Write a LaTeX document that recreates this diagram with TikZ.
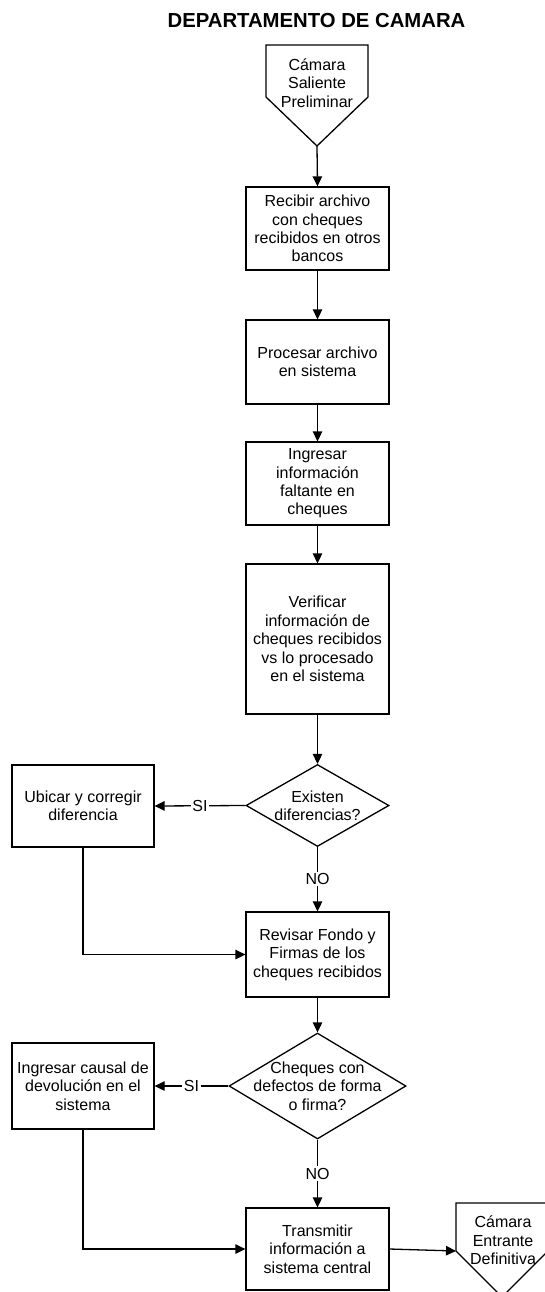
\documentclass[tikz,border=0pt]{standalone}
\usepackage{fontspec}
\setmainfont{Liberation Sans}
\usetikzlibrary{arrows.meta,shapes.geometric,calc}
\begin{document}
\begin{tikzpicture}[x=1pt,y=-1pt,
  line width=1.3pt,
  body/.style={font=\fontsize{16}{18.4}\selectfont, align=center},
  stepbox/.style={body, draw, rectangle, minimum width=143pt, inner sep=0pt},
  decision/.style={draw, diamond, inner sep=0pt},
  flow/.style={-{Triangle[length=10pt,width=9.5pt]}},
  tag/.style={body, fill=white, inner sep=1.5pt},
]
\useasboundingbox (0,0) rectangle (545,1292);
\clip (0,0) rectangle (545,1292);

% heading
\node[font=\bfseries\fontsize{20.3}{23}\selectfont] (title) at (316.5,21) {DEPARTAMENTO DE CAMARA};

% incoming off-page connector
\draw (266,45) -- (368,45) -- (368,97) -- (317,146) coordinate (stip) -- (266,97) -- cycle;
\node[body] (start) at (317,83) {Cámara\\Saliente\\Preliminar};

% process steps
\node[stepbox, minimum height=83pt] (b1) at (317.5,228.5) {Recibir archivo\\con cheques\\recibidos en otros\\bancos};
\node[stepbox, minimum height=84pt] (b2) at (317.5,362) {Procesar archivo\\en sistema};
\node[stepbox, minimum height=83pt] (b3) at (317.5,483.5) {Ingresar\\información\\faltante en\\cheques};
\node[stepbox, minimum height=150pt] (b4) at (317.5,639) {Verificar\\información de\\cheques recibidos\\vs lo procesado\\en el sistema};

\node[decision, minimum width=143pt, minimum height=82pt,
      label={[body]center:Existen\\diferencias?}] (d1) at (317.5,805.5) {};
\node[stepbox, minimum width=142pt, minimum height=82pt] (u1) at (83,806) {Ubicar y corregir\\diferencia};

\node[stepbox, minimum height=85pt] (b5) at (317.5,954.5) {Revisar Fondo y\\Firmas de los\\cheques recibidos};

\node[decision, minimum width=177pt, minimum height=106pt,
      label={[body]center:Cheques con\\defectos de forma\\o firma?}] (d2) at (317.5,1086) {};
\node[stepbox, minimum width=142pt, minimum height=86pt] (u2) at (83,1086) {Ingresar causal de\\devolución en el\\sistema};

\node[stepbox, minimum height=82pt] (b6) at (317.5,1249) {Transmitir\\información a\\sistema central};

% outgoing off-page connector
\draw (456,1203) -- (548,1203) -- (548,1251) -- (502,1297) -- (456,1251) coordinate (ein) -- cycle;
\node[body] (final) at (503,1240.5) {Cámara\\Entrante\\Definitiva};

% connectors
\draw[flow] (stip) -- (b1.north);
\draw[flow] (b1.south) -- (b2.north);
\draw[flow] (b2.south) -- (b3.north);
\draw[flow] (b3.south) -- (b4.north);
\draw[flow] (b4.south) -- (d1.north);
\draw[flow] (d1.west) -- node[tag] {SI} (u1.east);
\draw[flow] (d1.south) -- node[tag] {NO} (b5.north);
\draw[flow] (u1.south) |- (b5.west);
\draw[flow] (b5.south) -- (d2.north);
\draw[flow] (d2.west) -- node[tag] {SI} (u2.east);
\draw[flow] (d2.south) -- node[tag] {NO} (b6.north);
\draw[flow] (u2.south) |- (b6.west);
\draw[flow] (b6.east) -- (ein);
\end{tikzpicture}
\end{document}
